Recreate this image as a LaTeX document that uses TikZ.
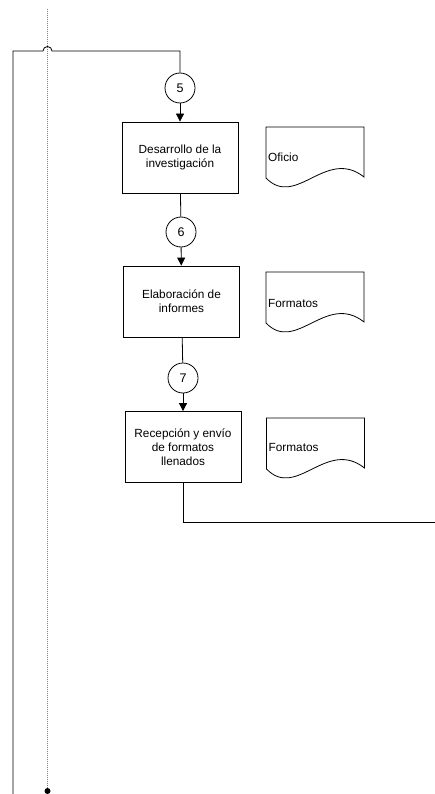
\documentclass[tikz,border=0pt]{standalone}
\usepackage{fontspec}
\setmainfont{Liberation Sans}
\usetikzlibrary{arrows.meta}
\begin{document}
\begin{tikzpicture}[x=1pt,y=-1pt,
  every node/.style={font=\fontsize{11.8}{14.2}\selectfont},
  proc/.style={draw, line width=0.8pt, minimum width=116pt, minimum height=71pt, align=center, inner sep=0pt},
  conn/.style={draw, circle, line width=0.8pt, minimum size=30pt, inner sep=0pt, font=\fontsize{12.5}{14}\selectfont},
  flow/.style={line width=0.8pt},
  arr/.style={flow, -{Triangle[length=8pt,width=8pt]}},
  doctext/.style={anchor=west, inner sep=0pt},
  docline/.style={line width=0.8pt},
  lane/.style={gray, line width=1pt, dash pattern=on 1pt off 1pt}
]
\useasboundingbox (0,0) rectangle (435,794);

\newcommand\docshape[2]{%
  \draw[docline, shift={(#1,#2)}] (0,51) -- (0,0) -- (98,0) -- (98,50)
    .. controls (60,20) and (30,82) .. (0,51);}

% dotted lane line
\coordinate (dt) at (47.5,9);
\node[circle, fill, inner sep=0pt, minimum size=6pt] (dot) at (47.5,791) {};
\draw[lane] (dt) -- (dot);

% process nodes
\node[conn] (c5) at (180,88) {5};
\node[proc] (p1) at (180,157.5) {Desarrollo de la\\investigación};
\node[conn] (c6) at (181,232) {6};
\node[proc] (p2) at (181.5,301.5) {Elaboración de\\informes};
\node[conn] (c7) at (183,378) {7};
\node[proc] (p3) at (183,447) {Recepción y envío\\de formatos\\llenados};

% documents
\docshape{266}{127}
\node[doctext] (d1) at (268,157) {Oficio};
\docshape{266}{272}
\node[doctext] (d2) at (268,303) {Formatos};
\docshape{266.5}{418}
\node[doctext] (d3) at (268.5,447) {Formatos};

% incoming flow with hop
\coordinate (lb) at (13,794);
\coordinate (lt) at (13,51);
\coordinate (hs) at (43,51);
\draw[flow] (lb) -- (lt) -- (hs) arc[start angle=180, end angle=0, radius=4.5pt]
  -- (c5.north |- lt) -- (c5.north);

% vertical flow
\draw[arr] (c5) -- (p1);
\draw[flow] (p1) -- (c6);
\draw[arr] (c6) -- (p2);
\draw[flow] (p2) -- (c7);
\draw[arr] (c7) -- (p3);

% outgoing flow
\coordinate (re) at (435,522);
\draw[flow] (p3.south) -- (p3.south |- re) -- (re);
\end{tikzpicture}
\end{document}
